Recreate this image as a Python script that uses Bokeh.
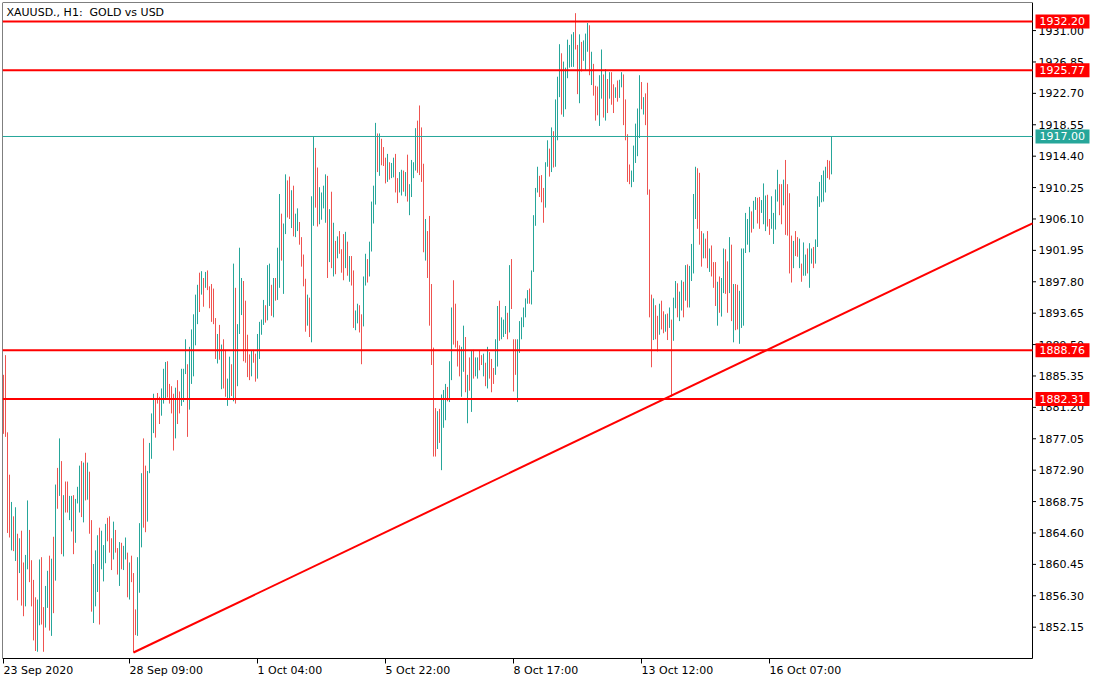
from bokeh.plotting import figure
from bokeh.models import ColumnDataSource, Range1d, Label
from bokeh.core.properties import value
from bokeh.embed import file_html
from bokeh.resources import INLINE

symbol_title = "XAUUSD., H1:\u00a0 GOLD vs USD"

bar_highs = [
    1885.5, 1888.1, 1877.9, 1872.3, 1868.7, 1866.8, 1868.0, 1864.5, 1863.9, 1864.9,
    1860.7, 1861.7, 1868.9, 1865.0, 1861.0, 1858.4, 1856.1, 1855.8, 1861.1, 1861.4,
    1854.8, 1857.6, 1859.6, 1861.6, 1861.2, 1864.1, 1871.0, 1873.2, 1877.1, 1874.1,
    1869.6, 1871.4, 1871.4, 1869.5, 1869.5, 1869.6, 1869.1, 1870.7, 1873.5, 1874.1,
    1873.9, 1875.2, 1873.9, 1872.7, 1866.3, 1860.5, 1862.3, 1864.3, 1865.3, 1864.9,
    1863.0, 1865.8, 1866.6, 1866.8, 1863.9, 1866.1, 1865.0, 1862.6, 1863.4, 1863.3,
    1862.9, 1864.0, 1862.0, 1860.7, 1861.6, 1859.3, 1854.5, 1861.4, 1865.9, 1872.5,
    1877.1, 1873.5, 1872.8, 1876.5, 1880.4, 1883.0, 1882.4, 1883.1, 1882.6, 1883.7,
    1886.3, 1887.2, 1887.3, 1884.3, 1884.0, 1883.0, 1883.8, 1884.8, 1883.3, 1886.3,
    1886.3, 1890.2, 1886.9, 1889.2, 1891.5, 1893.5, 1896.1, 1897.4, 1899.0, 1899.2,
    1898.3, 1899.1, 1899.3, 1897.2, 1897.5, 1896.9, 1893.0, 1890.9, 1892.1, 1889.5,
    1890.2, 1888.8, 1885.0, 1887.9, 1886.9, 1900.2, 1897.0, 1892.2, 1902.3, 1898.3,
    1897.9, 1895.3, 1890.8, 1888.2, 1888.7, 1888.8, 1888.3, 1890.9, 1892.5, 1892.8,
    1895.4, 1894.7, 1900.0, 1900.2, 1897.4, 1898.3, 1898.3, 1902.3, 1909.4, 1906.8,
    1905.5, 1912.0, 1911.2, 1911.7, 1909.9, 1910.5, 1906.8, 1907.5, 1905.7, 1903.7,
    1901.4, 1898.2, 1896.1, 1895.7, 1909.1, 1917.0, 1915.5, 1912.9, 1910.3, 1909.6,
    1910.5, 1912.0, 1911.8, 1907.4, 1909.7, 1905.6, 1903.2, 1903.8, 1904.5, 1902.1,
    1904.1, 1904.4, 1903.1, 1901.2, 1901.2, 1899.3, 1894.0, 1894.9, 1894.7, 1893.5,
    1898.5, 1901.5, 1900.8, 1903.1, 1908.4, 1910.5, 1918.8, 1917.4, 1917.4, 1916.7,
    1915.6, 1914.2, 1914.7, 1913.6, 1913.5, 1914.2, 1914.7, 1911.5, 1912.3, 1912.6,
    1912.5, 1912.3, 1914.6, 1910.7, 1913.9, 1913.6, 1918.1, 1919.1, 1921.1, 1918.2,
    1913.4, 1906.1, 1904.5, 1906.5, 1897.5, 1889.1, 1881.1, 1880.7, 1881.0, 1882.9,
    1883.5, 1884.3, 1883.9, 1887.3, 1894.4, 1898.0, 1894.9, 1890.0, 1889.4, 1889.2,
    1892.0, 1890.5, 1885.5, 1887.8, 1888.7, 1888.8, 1887.8, 1887.8, 1888.7, 1888.1,
    1888.3, 1887.1, 1889.2, 1888.5, 1887.6, 1886.4, 1890.2, 1894.6, 1895.3, 1893.1,
    1892.8, 1894.6, 1893.7, 1900.0, 1900.8, 1890.2, 1890.2, 1890.2, 1892.6, 1893.1,
    1894.4, 1895.6, 1896.7, 1896.9, 1899.3, 1906.6, 1910.2, 1913.0, 1911.8, 1911.9,
    1910.2, 1913.6, 1916.5, 1915.4, 1918.2, 1917.7, 1921.9, 1924.9, 1929.2, 1928.0,
    1926.9, 1926.1, 1929.8, 1929.1, 1930.5, 1930.8, 1933.3, 1929.1, 1930.5, 1929.5,
    1929.7, 1930.6, 1932.0, 1931.7, 1928.2, 1926.6, 1923.7, 1923.6, 1925.1, 1928.5,
    1925.2, 1925.9, 1924.6, 1925.5, 1925.5, 1923.9, 1923.5, 1924.4, 1924.5, 1925.5,
    1925.2, 1921.9, 1917.3, 1913.3, 1912.5, 1915.8, 1918.7, 1920.7, 1925.1, 1924.2,
    1922.2, 1922.7, 1924.1, 1910.0, 1896.1, 1895.6, 1894.7, 1893.3, 1894.9, 1895.3,
    1893.9, 1893.5, 1893.6, 1894.4, 1892.8, 1895.7, 1897.9, 1897.6, 1896.5, 1898.0,
    1897.8, 1900.0, 1900.1, 1899.9, 1902.8, 1909.4, 1913.0, 1912.8, 1912.2, 1904.5,
    1904.2, 1903.5, 1904.5, 1902.2, 1902.6, 1900.4, 1900.4, 1897.8, 1898.5, 1898.3,
    1902.2, 1902.1, 1900.5, 1903.7, 1902.7, 1897.5, 1897.5, 1897.4, 1896.6, 1902.2,
    1902.2, 1906.9, 1906.1, 1907.7, 1907.1, 1908.5, 1909.0, 1908.9, 1909.0, 1908.6,
    1910.8, 1909.2, 1909.3, 1906.1, 1909.1, 1906.9, 1910.0, 1912.6, 1910.7, 1910.7,
    1911.3, 1913.9, 1910.7, 1909.5, 1903.9, 1903.2, 1904.5, 1903.7, 1903.5, 1900.2,
    1903.0, 1901.4, 1902.2, 1902.9, 1902.2, 1902.4, 1903.4, 1909.1, 1911.0, 1911.9,
    1912.5, 1913.0, 1913.9, 1913.8, 1917.0,
]

bar_lows = [
    1877.7, 1877.3, 1864.6, 1864.0, 1862.3, 1862.2, 1860.9, 1855.7, 1859.3, 1855.0,
    1853.6, 1854.9, 1859.8, 1858.1, 1854.9, 1850.4, 1849.0, 1848.9, 1852.4, 1852.5,
    1848.9, 1852.1, 1854.7, 1851.7, 1851.0, 1854.0, 1858.3, 1867.8, 1869.5, 1861.8,
    1861.5, 1867.3, 1867.3, 1866.3, 1864.8, 1861.8, 1863.3, 1868.5, 1867.3, 1866.7,
    1866.0, 1868.9, 1869.0, 1864.5, 1854.2, 1852.7, 1854.9, 1856.8, 1852.5, 1859.8,
    1858.2, 1860.6, 1863.5, 1862.0, 1859.7, 1861.1, 1862.0, 1859.1, 1857.6, 1859.8,
    1859.7, 1861.1, 1856.1, 1855.8, 1858.1, 1848.8, 1851.1, 1851.0, 1856.7, 1862.7,
    1865.3, 1864.7, 1866.1, 1872.5, 1874.4, 1877.8, 1877.2, 1881.7, 1879.0, 1880.1,
    1881.7, 1882.4, 1882.5, 1881.7, 1880.4, 1875.5, 1877.1, 1879.0, 1880.4, 1881.4,
    1881.9, 1885.6, 1877.3, 1880.9, 1884.3, 1885.3, 1889.4, 1892.2, 1893.8, 1896.1,
    1894.5, 1897.0, 1896.7, 1894.3, 1892.5, 1892.2, 1887.6, 1887.0, 1887.5, 1883.6,
    1883.7, 1882.6, 1881.4, 1882.3, 1882.7, 1882.0, 1881.7, 1884.0, 1890.9, 1893.4,
    1887.3, 1887.1, 1885.2, 1884.8, 1885.3, 1887.1, 1884.6, 1885.0, 1887.6, 1890.8,
    1892.1, 1892.4, 1892.7, 1894.6, 1893.3, 1893.1, 1895.3, 1895.4, 1897.0, 1900.6,
    1896.2, 1904.1, 1906.3, 1906.1, 1904.9, 1903.8, 1903.7, 1904.5, 1902.7, 1899.8,
    1897.2, 1891.2, 1892.0, 1890.5, 1889.8, 1905.2, 1907.6, 1905.1, 1905.4, 1906.0,
    1907.5, 1905.6, 1898.3, 1900.4, 1899.6, 1898.5, 1898.8, 1900.9, 1901.5, 1899.0,
    1898.0, 1899.6, 1898.6, 1897.8, 1897.3, 1891.7, 1891.4, 1892.3, 1891.1, 1886.9,
    1891.9, 1897.3, 1897.7, 1898.5, 1901.8, 1905.5, 1908.0, 1912.3, 1911.8, 1913.2,
    1913.1, 1910.8, 1911.0, 1911.3, 1911.5, 1911.6, 1909.6, 1908.2, 1909.6, 1909.2,
    1909.7, 1909.1, 1908.4, 1906.6, 1909.0, 1911.5, 1912.5, 1912.2, 1911.9, 1911.0,
    1901.7, 1900.6, 1898.3, 1892.0, 1886.8, 1874.7, 1874.7, 1875.7, 1876.5, 1872.9,
    1878.5, 1879.5, 1882.0, 1881.9, 1884.8, 1889.5, 1889.1, 1886.6, 1885.3, 1882.6,
    1885.9, 1883.2, 1879.1, 1883.4, 1880.6, 1885.0, 1885.3, 1885.0, 1886.1, 1886.8,
    1885.3, 1884.0, 1883.7, 1885.0, 1883.2, 1884.3, 1885.5, 1886.6, 1890.0, 1890.2,
    1890.5, 1890.9, 1890.2, 1891.1, 1894.2, 1883.3, 1885.5, 1881.9, 1888.4, 1890.2,
    1891.8, 1893.1, 1894.9, 1894.9, 1894.8, 1899.1, 1905.2, 1909.6, 1909.0, 1908.3,
    1905.6, 1907.6, 1913.0, 1911.7, 1912.3, 1912.9, 1913.0, 1916.5, 1922.2, 1919.9,
    1919.6, 1920.6, 1924.7, 1926.1, 1926.2, 1926.2, 1928.5, 1922.6, 1921.4, 1925.6,
    1927.0, 1925.8, 1928.2, 1925.1, 1923.8, 1922.4, 1919.1, 1919.8, 1918.4, 1922.0,
    1919.5, 1919.1, 1920.1, 1922.0, 1921.2, 1920.1, 1922.1, 1921.6, 1922.1, 1923.5,
    1918.5, 1916.5, 1911.0, 1910.7, 1910.3, 1911.0, 1913.5, 1914.4, 1916.8, 1920.6,
    1919.9, 1918.5, 1909.3, 1893.1, 1886.5, 1890.1, 1890.2, 1888.6, 1890.8, 1891.5,
    1891.0, 1891.2, 1890.1, 1891.7, 1882.6, 1890.0, 1894.3, 1893.1, 1892.6, 1894.0,
    1893.1, 1895.3, 1894.4, 1894.4, 1897.9, 1898.9, 1906.1, 1904.8, 1902.7, 1899.8,
    1900.9, 1900.9, 1899.6, 1899.1, 1898.5, 1897.0, 1894.6, 1892.0, 1893.7, 1893.2,
    1896.3, 1896.2, 1893.7, 1896.3, 1892.6, 1889.8, 1891.4, 1891.5, 1889.6, 1891.7,
    1892.0, 1901.6, 1902.7, 1901.7, 1904.3, 1904.8, 1907.3, 1905.5, 1904.8, 1906.9,
    1905.4, 1904.5, 1905.1, 1904.0, 1904.8, 1902.8, 1904.7, 1908.4, 1906.6, 1905.4,
    1907.9, 1904.0, 1903.9, 1898.9, 1897.7, 1899.6, 1901.2, 1901.1, 1899.6, 1897.8,
    1898.6, 1898.6, 1898.9, 1897.0, 1900.2, 1899.6, 1900.2, 1902.4, 1907.7, 1908.3,
    1908.4, 1909.6, 1911.5, 1911.3, 1912.0,
]

# t = bullish bar, r = bearish bar
bar_dirs = "".join([
    "rrrrtrtrtr", "rttrrrrttr", "rttrtrtrtr", "trrttrtttr", "trtrrtttrt",
    "ttrrrtrrtr", "ttrtrrrttt", "rrttttrrrt", "ttrrrrtrrt", "ttrtttttrt",
    "rtrrrrrtrt", "rrttrtrttt", "rrrrtrrttt", "trttrtrttr", "ttrrtrttrr",
    "rrtrttrrtt", "ttrtrtrtrr", "rtrtrrttrr", "ttrttttrtr", "rrtrttrrtt",
    "rtrttttrrr", "rtrrrrrtrt", "ttrttrrrrt", "trtrtrttrr", "trtrrrttrt",
    "ttrtrrrttt", "tttrttttrr", "rttrtrtttr", "ttttttrrtr", "tttrtrrrtt",
    "rtrtrrtrtt", "rrrrtttttr", "trrrrtrrtr", "rtrtrttrtt", "rtrttttrrr",
    "trrtrrrtrt", "trrtrtrrtt", "ttttrttrrt", "ttrrttttrr", "trrrrtrrtr",
    "ttrttrtttt", "ttrrt",
])

last_price = 1917.00
horizontal_levels = [1932.20, 1925.77, 1888.76, 1882.31]
trend_anchor_bars = [65, 334]
trend_anchor_prices = [1848.80, 1882.75]

x_tick_bars = [0, 63, 127, 191, 255, 319, 383]
x_tick_labels = ["23 Sep 2020", "28 Sep 09:00", "1 Oct 04:00", "5 Oct 22:00",
                 "8 Oct 17:00", "13 Oct 12:00", "16 Oct 07:00"]
y_tick_values = [1852.15, 1856.30, 1860.45, 1864.60, 1868.75, 1872.90, 1877.05,
                 1881.20, 1885.35, 1889.50, 1893.65, 1897.80, 1901.95, 1906.10,
                 1910.25, 1914.40, 1918.55, 1922.70, 1926.85, 1931.00]

UP = "#26a69a"
DOWN = "#ef5350"
LEVEL = "#ff0000"
FONT = "DejaVu Sans"

n = min(len(bar_highs), len(bar_lows), len(bar_dirs))
src = ColumnDataSource(dict(
    i=list(range(n)),
    hi=bar_highs[:n],
    lo=bar_lows[:n],
    col=[UP if d == "t" else DOWN for d in bar_dirs[:n]],
))

# layout: 1 x-unit = 2 px; chart area 1030 px wide with a 60 px price strip on the right;
# chart area 656 px tall with a 20 px time strip below it
CHART_H, TIME_H = 656, 20
x_start = -0.5
chart_end = x_start + 515.0
x_end = x_start + 545.0
y_bot, y_top = 1848.01, 1934.71
ppu = CHART_H / (y_top - y_bot)          # pixels per price unit
y_floor = y_bot - TIME_H / ppu

p = figure(frame_width=1090, frame_height=CHART_H + TIME_H,
           x_range=Range1d(x_start, x_end), y_range=Range1d(y_floor, y_top),
           x_axis_location=None, y_axis_location=None,
           output_backend="svg", toolbar_location=None,
           min_border_left=2, min_border_top=2, min_border_right=2, min_border_bottom=0,
           background_fill_color="white", border_fill_color="white",
           outline_line_color=None)

p.xgrid.visible = False
p.ygrid.visible = False

# OHLC bars as thin 1px vertical strokes (high to low)
p.segment(x0="i", y0="lo", x1="i", y1="hi", source=src,
          line_color="col", line_width=1, line_cap="butt")

# chart frame: left, top, bottom edges and price-axis line
p.segment(x0=[x_start, x_start, x_start, chart_end],
          y0=[y_bot, y_top, y_bot, y_bot],
          x1=[x_start, chart_end, chart_end, chart_end],
          y1=[y_top, y_top, y_bot, y_top],
          line_color="black", line_width=1)

# horizontal levels
p.segment(x0=[x_start] * len(horizontal_levels), y0=horizontal_levels,
          x1=[chart_end] * len(horizontal_levels), y1=horizontal_levels,
          line_color=LEVEL, line_width=2)
p.segment(x0=[x_start], y0=[last_price], x1=[chart_end], y1=[last_price],
          line_color=UP, line_width=1)

# trendline ray
slope = (trend_anchor_prices[1] - trend_anchor_prices[0]) / (trend_anchor_bars[1] - trend_anchor_bars[0])
tx = [trend_anchor_bars[0], chart_end]
ty = [trend_anchor_prices[0], trend_anchor_prices[0] + slope * (chart_end - trend_anchor_bars[0])]
p.line(tx, ty, line_color=LEVEL, line_width=2)

# price scale ticks and labels
p.segment(x0=[chart_end] * len(y_tick_values), y0=y_tick_values,
          x1=[chart_end + 1.75] * len(y_tick_values), y1=y_tick_values,
          line_color="black", line_width=1)
p.text(x=[chart_end + 3.0] * len(y_tick_values), y=y_tick_values,
       text=[f"{v:.2f}" for v in y_tick_values], text_baseline="middle",
       text_align="left", text_font=value(FONT), text_font_size="11px",
       text_color="black")

# price tags
tag_levels = horizontal_levels + [last_price]
tag_colors = [LEVEL] * len(horizontal_levels) + [UP]
p.rect(x=[chart_end + 15.0] * len(tag_levels), y=tag_levels, width=27, height=14,
       height_units="screen", fill_color=tag_colors, line_color=None)
p.text(x=[chart_end + 3.5] * len(tag_levels), y=tag_levels,
       text=[f"{v:.2f}" for v in tag_levels], text_baseline="middle",
       text_align="left", text_font=value(FONT), text_font_size="11px",
       text_color="white")

# time scale ticks and left-aligned labels
p.segment(x0=x_tick_bars, y0=[y_bot] * len(x_tick_bars),
          x1=x_tick_bars, y1=[y_bot - 5 / ppu] * len(x_tick_bars),
          line_color="black", line_width=1)
p.text(x=x_tick_bars, y=[y_bot - 5 / ppu] * len(x_tick_bars), text=x_tick_labels,
       text_baseline="top", text_align="left", text_font=value(FONT),
       text_font_size="11px", text_color="black")

p.add_layout(Label(x=x_start, y=y_top, x_offset=4, y_offset=-3, text=symbol_title,
                   text_baseline="top", text_align="left", text_font=FONT,
                   text_font_size="11px", text_color="black"))

open("out.html", "w").write(file_html(p, INLINE))
